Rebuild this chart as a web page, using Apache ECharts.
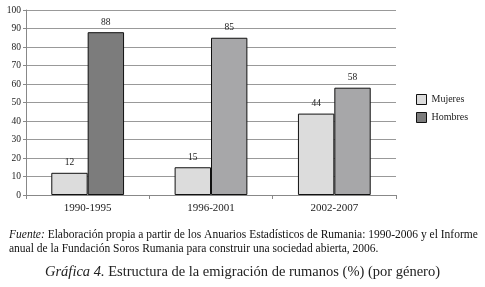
<!DOCTYPE html>
<html><head><meta charset="utf-8">
<script src="https://cdn.jsdelivr.net/npm/echarts@6/dist/echarts.min.js"></script>
<style>html,body{margin:0;padding:0;background:#fff}#c{width:485px;height:287px}</style>
</head><body><div id="c"></div>
<script>
const categories = ['1990-1995', '1996-2001', '2002-2007'];
const mujeres = [12, 15, 44];
const hombres = [88, 85, 58];
const seriesNames = ['Mujeres', 'Hombres'];
const yTicks = { min: 0, max: 100, interval: 10 };

const F = 'Liberation Serif, Times New Roman, serif';
const chart = echarts.init(document.getElementById('c'), null, { renderer: 'canvas' });
chart.setOption({
  animation: false,
  backgroundColor: '#fff',
  grid: { left: 26, right: 89, top: 10, bottom: 92 },
  legend: {
    left: 411, top: 89, orient: 'vertical', itemWidth: 10, itemHeight: 10, itemGap: 7,
    icon: 'rect',
    textStyle: { fontFamily: F, fontSize: 10, color: '#222' },
    data: [
      { name: seriesNames[0], itemStyle: { color: '#dcdcdc', borderColor: '#111', borderWidth: 1 } },
      { name: seriesNames[1], itemStyle: { color: '#7c7c7c', borderColor: '#111', borderWidth: 1 } }
    ]
  },
  xAxis: {
    type: 'category', data: categories,
    axisLine: { lineStyle: { color: '#888' } },
    axisTick: { show: true, length: 4, lineStyle: { color: '#888' } },
    axisLabel: { fontFamily: F, fontSize: 11, color: '#222', margin: 8 }
  },
  yAxis: {
    type: 'value', min: yTicks.min, max: yTicks.max, interval: yTicks.interval,
    axisLine: { show: true, lineStyle: { color: '#888' } },
    axisTick: { show: true, length: 3, lineStyle: { color: '#888' } },
    axisLabel: { fontFamily: F, fontSize: 9.5, color: '#222', margin: 5 },
    splitLine: { lineStyle: { color: '#999' } }
  },
  series: [
    {
      name: seriesNames[0], type: 'bar', data: mujeres, barGap: '0%', barCategoryGap: '41%',
      itemStyle: { color: '#dcdcdc', borderColor: '#111', borderWidth: 1 },
      label: { show: true, position: 'top', fontFamily: F, fontSize: 9.5, color: '#222', distance: 5 }
    },
    {
      name: seriesNames[1], type: 'bar', data: hombres, barGap: '0%', barCategoryGap: '41%',
      itemStyle: { color: p => p.dataIndex === 0 ? '#7c7c7c' : '#a7a7a9', borderColor: '#111', borderWidth: 1 },
      label: { show: true, position: 'top', fontFamily: F, fontSize: 9.5, color: '#222', distance: 5 }
    }
  ],
  title: [
    {
      left: 4, top: 223,
      text: '{i|Fuente:} Elaboración propia a partir de los Anuarios Estadísticos de Rumania: 1990-2006 y el Informe\nanual de la Fundación Soros Rumania para construir una sociedad abierta, 2006.',
      textStyle: {
        fontFamily: F, fontSize: 11.5, fontWeight: 'normal', color: '#111', lineHeight: 14,
        rich: { i: { fontStyle: 'italic', fontFamily: F, fontSize: 11.5, color: '#111' } }
      }
    },
    {
      left: 'center', top: 260,
      text: '{i|Gráfica 4.} Estructura de la emigración de rumanos (%) (por género)',
      textStyle: {
        fontFamily: F, fontSize: 14.5, fontWeight: 'normal', color: '#222',
        rich: { i: { fontStyle: 'italic', fontFamily: F, fontSize: 14.5, color: '#222' } }
      }
    }
  ]
});
</script></body></html>
